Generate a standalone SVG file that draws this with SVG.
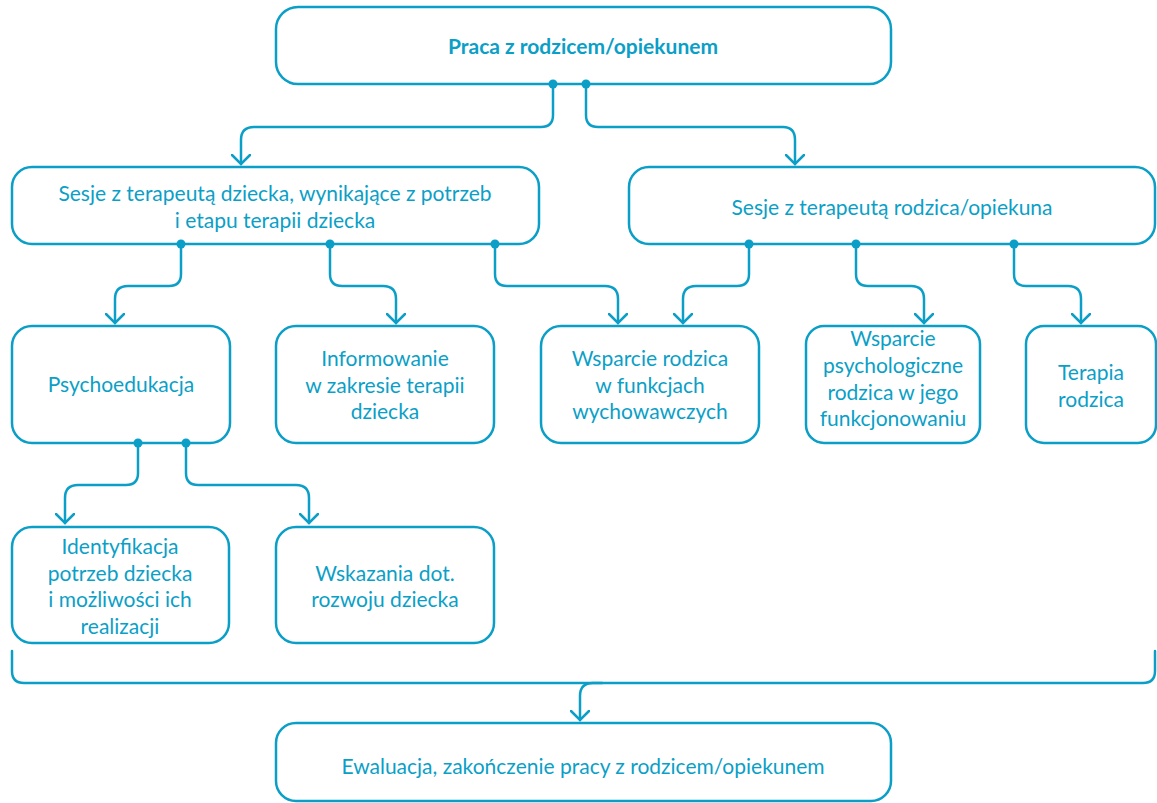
<svg xmlns="http://www.w3.org/2000/svg" width="1157" height="803" viewBox="0 0 1157 803">
<defs>
<style>
.box{fill:#fff;stroke:#0b9fc7;stroke-width:2.5}
.t{font-family:Lato,"Open Sans","Liberation Sans",sans-serif;font-size:21px;fill:#0b9fc7;text-anchor:middle}
.b{font-weight:bold}
.c{fill:none;stroke:#0b9fc7;stroke-width:2.5;stroke-linejoin:round;stroke-linecap:round}
.d{fill:#0b9fc7}
</style>
<marker id="ah" viewBox="0 0 20 20" refX="10" refY="10" markerWidth="20" markerHeight="20" markerUnits="userSpaceOnUse" orient="auto">
<path d="M1,1 L10,10 L1,19" fill="none" stroke="#0b9fc7" stroke-width="2.5" stroke-linecap="round"/>
</marker>
</defs>
<rect width="1157" height="803" fill="#fff"/>

<g id="n-praca">
<rect class="box" x="276" y="7" width="615" height="77" rx="22"/>
<text class="t b" x="583" y="54">Praca z rodzicem/opiekunem</text>
</g>
<g id="n-sesje-dziecka">
<rect class="box" x="12" y="167" width="527" height="77" rx="20"/>
<text class="t" x="275" y="201">Sesje z terapeutą dziecka, wynikające z potrzeb</text>
<text class="t" x="275" y="228">i etapu terapii dziecka</text>
</g>
<g id="n-sesje-rodzica">
<rect class="box" x="629" y="167" width="526" height="77" rx="20"/>
<text class="t" x="892" y="215">Sesje z terapeutą rodzica/opiekuna</text>
</g>
<g id="n-psychoedukacja">
<rect class="box" x="12" y="326" width="218" height="117" rx="20"/>
<text class="t" x="121" y="392">Psychoedukacja</text>
</g>
<g id="n-informowanie">
<rect class="box" x="276" y="326" width="218" height="117" rx="20"/>
<text class="t" x="385" y="366">Informowanie</text>
<text class="t" x="385" y="393">w zakresie terapii</text>
<text class="t" x="385" y="419">dziecka</text>
</g>
<g id="n-wsparcie-wych">
<rect class="box" x="541" y="326" width="218" height="117" rx="20"/>
<text class="t" x="650" y="366">Wsparcie rodzica</text>
<text class="t" x="650" y="393">w funkcjach</text>
<text class="t" x="650" y="419">wychowawczych</text>
</g>
<g id="n-wsparcie-psych">
<rect class="box" x="806" y="326" width="174" height="117" rx="18"/>
<text class="t" x="893" y="346">Wsparcie</text>
<text class="t" x="893" y="373">psychologiczne</text>
<text class="t" x="893" y="400">rodzica w jego</text>
<text class="t" x="893" y="426">funkcjonowaniu</text>
</g>
<g id="n-terapia">
<rect class="box" x="1026" y="326" width="130" height="117" rx="18"/>
<text class="t" x="1091" y="380">Terapia</text>
<text class="t" x="1091" y="407">rodzica</text>
</g>
<g id="n-identyfikacja">
<rect class="box" x="12" y="527" width="217" height="116" rx="20"/>
<text class="t" x="120" y="554">Identyfikacja</text>
<text class="t" x="120" y="581">potrzeb dziecka</text>
<text class="t" x="120" y="607">i możliwości ich</text>
<text class="t" x="120" y="634">realizacji</text>
</g>
<g id="n-wskazania">
<rect class="box" x="276" y="527" width="218" height="116" rx="20"/>
<text class="t" x="385" y="581">Wskazania dot.</text>
<text class="t" x="385" y="607">rozwoju dziecka</text>
</g>
<g id="n-ewaluacja">
<rect class="box" x="276" y="723" width="615" height="78" rx="20"/>
<text class="t" x="583" y="774">Ewaluacja, zakończenie pracy z rodzicem/opiekunem</text>
</g>

<g id="connectors">
<path class="c" d="M553,84 V115 Q553,127 541,127 H254 Q241,127 241,140 V164" marker-end="url(#ah)"/>
<path class="c" d="M586,84 V115 Q586,127 598,127 H783 Q795,127 795,140 V164" marker-end="url(#ah)"/>
<path class="c" d="M181,244 V274 Q181,286 169,286 H128 Q115,286 115,299 V323" marker-end="url(#ah)"/>
<path class="c" d="M330,244 V274 Q330,286 342,286 H383 Q396,286 396,299 V323" marker-end="url(#ah)"/>
<path class="c" d="M495,244 V274 Q495,286 507,286 H605 Q618,286 618,299 V323" marker-end="url(#ah)"/>
<path class="c" d="M749,244 V274 Q749,286 737,286 H696 Q683,286 683,299 V323" marker-end="url(#ah)"/>
<path class="c" d="M856,244 V274 Q856,286 868,286 H911 Q924,286 924,299 V323" marker-end="url(#ah)"/>
<path class="c" d="M1014,244 V274 Q1014,286 1026,286 H1068 Q1081,286 1081,299 V323" marker-end="url(#ah)"/>
<path class="c" d="M138,443 V473 Q138,485 126,485 H78 Q65,485 65,498 V523" marker-end="url(#ah)"/>
<path class="c" d="M186,443 V473 Q186,485 198,485 H296 Q309,485 309,498 V523" marker-end="url(#ah)"/>
<path class="c" d="M12,651 V671 Q12,683 24,683 H1143 Q1155,683 1155,671 V651"/>
<path class="c" d="M602,683 H593 Q580,683 580,696 V720" marker-end="url(#ah)"/>
<circle class="d" cx="553" cy="84" r="4.5"/>
<circle class="d" cx="586" cy="84" r="4.5"/>
<circle class="d" cx="181" cy="244" r="4.5"/>
<circle class="d" cx="330" cy="244" r="4.5"/>
<circle class="d" cx="495" cy="244" r="4.5"/>
<circle class="d" cx="749" cy="244" r="4.5"/>
<circle class="d" cx="856" cy="244" r="4.5"/>
<circle class="d" cx="1014" cy="244" r="4.5"/>
<circle class="d" cx="138" cy="443" r="4.5"/>
<circle class="d" cx="186" cy="443" r="4.5"/>
</g>
</svg>
